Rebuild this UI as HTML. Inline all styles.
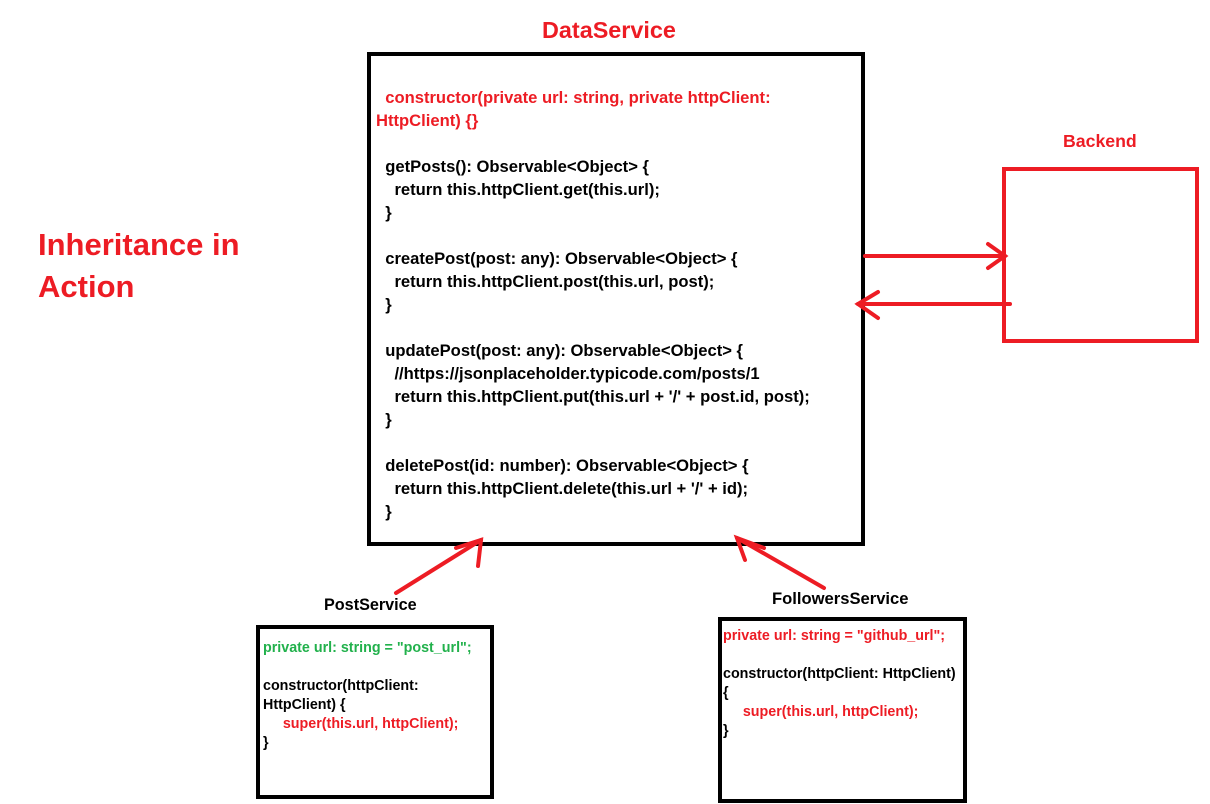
<!DOCTYPE html>
<html><head><meta charset="utf-8"><style>
body{margin:0;width:1210px;height:804px;background:#fff;position:relative;overflow:hidden;font-family:"Liberation Sans",Arial,sans-serif;font-weight:bold}
.a{position:absolute;white-space:pre}
.r{color:#ed1c24}.g{color:#22b14c}
.box{position:absolute;border:4px solid #000;box-sizing:border-box}
.main{font-size:16.6px;line-height:23px;color:#000}
.sm{font-size:14.3px;line-height:19px;color:#000}
</style></head><body>
<div class="a r" style="left:542px;top:17px;font-size:23.4px">DataService</div>
<div class="a r" style="left:38px;top:224px;font-size:31px;line-height:42px">Inheritance in
Action</div>
<div class="a r" style="left:1063px;top:131px;font-size:17.7px">Backend</div>
<div class="box" style="left:367px;top:52px;width:498px;height:494px"></div>
<div class="a main" style="left:376px;top:86px"><span class="r">  constructor(private url: string, private httpClient:
HttpClient) {}</span>

  getPosts(): Observable&lt;Object&gt; {
    return this.httpClient.get(this.url);
  }

  createPost(post: any): Observable&lt;Object&gt; {
    return this.httpClient.post(this.url, post);
  }

  updatePost(post: any): Observable&lt;Object&gt; {
    //https://jsonplaceholder.typicode.com/posts/1
    return this.httpClient.put(this.url + '/' + post.id, post);
  }

  deletePost(id: number): Observable&lt;Object&gt; {
    return this.httpClient.delete(this.url + '/' + id);
  }</div>
<div class="box" style="left:1002px;top:167px;width:197px;height:176px;border-color:#ed1c24"></div>
<div class="a" style="left:324px;top:596px;font-size:16.2px">PostService</div>
<div class="a" style="left:772px;top:589px;font-size:16.6px">FollowersService</div>
<div class="box" style="left:256px;top:625px;width:238px;height:174px"></div>
<div class="a sm" style="left:263px;top:639px"><span class="g">private url: string = "post_url";</span>

constructor(httpClient:
HttpClient) {
<span class="r">     super(this.url, httpClient);</span>
}</div>
<div class="box" style="left:718px;top:617px;width:249px;height:186px"></div>
<div class="a sm" style="left:723px;top:627px"><span class="r">private url: string = "github_url";</span>

constructor(httpClient: HttpClient)
{
<span class="r">     super(this.url, httpClient);</span>
}</div>
<svg class="a" style="left:0;top:0" width="1210" height="804">
<g stroke="#ed1c24" stroke-width="4" fill="none" stroke-linecap="round">
<line x1="865" y1="256" x2="1005" y2="256"/><polyline points="988,244 1005,256 988,268"/>
<line x1="1010" y1="304" x2="858" y2="304"/><polyline points="878,292 858,304 878,318"/>
<line x1="396" y1="593" x2="481" y2="540"/><polyline points="456,548 481,540 478,566"/>
<line x1="824" y1="588" x2="737" y2="538"/><polyline points="764,548 737,538 745,560"/>
</g></svg>
</body></html>
